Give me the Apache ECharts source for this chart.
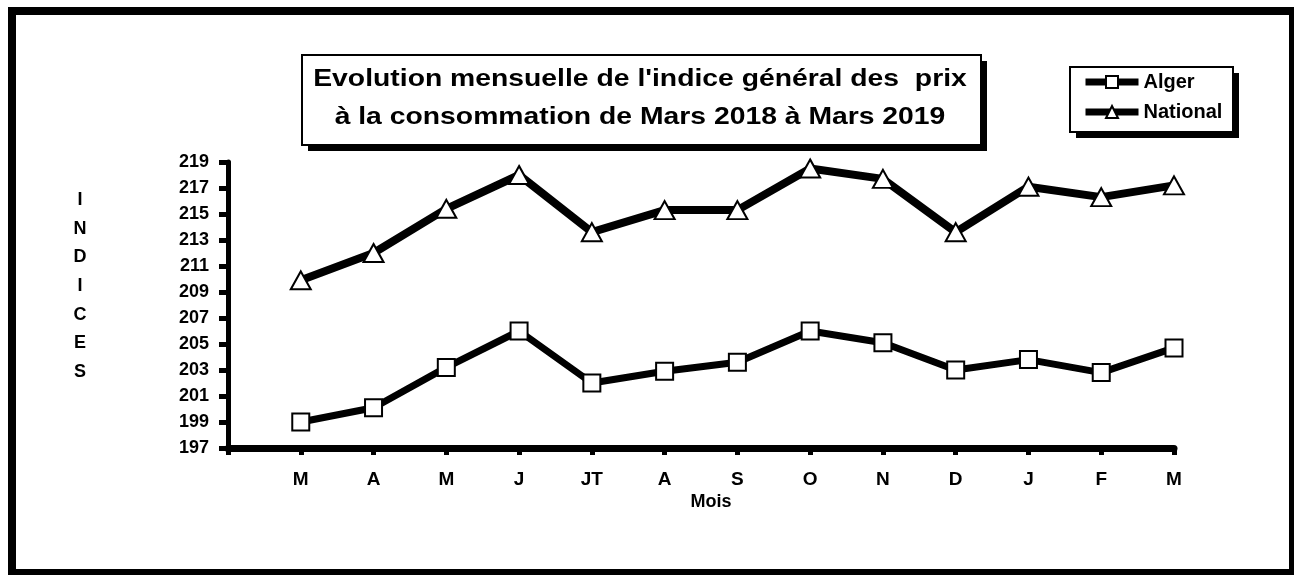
<!DOCTYPE html>
<html>
<head>
<meta charset="utf-8">
<script src="https://cdn.jsdelivr.net/npm/echarts@6/dist/echarts.min.js"></script>
<style>
  html, body { margin: 0; padding: 0; background: #fff; }
  #chart { width: 1294px; height: 575px; }
</style>
</head>
<body>
<div id="chart"></div>
<script>
// month initials, Mars 2018 -> Mars 2019
var months = ['M', 'A', 'M', 'J', 'JT', 'A', 'S', 'O', 'N', 'D', 'J', 'F', 'M'];
var alger = [199.0, 200.1, 203.2, 206.0, 202.0, 202.9, 203.6, 206.0, 205.1, 203.0, 203.8, 202.8, 204.7];
var national = [209.9, 212.0, 215.4, 218.0, 213.6, 215.3, 215.3, 218.5, 217.7, 213.6, 217.1, 216.3, 217.2];
var yTicks = [197, 199, 201, 203, 205, 207, 209, 211, 213, 215, 217, 219];

(function() {
  var font = "'Liberation Sans', Arial, sans-serif";
  var ink = '#000';

  function points(values) {
    return values.map(function(v, i) { return [i + 1, v]; });
  }

  var chart = echarts.init(document.getElementById('chart'), null, { renderer: 'canvas' });
  chart.setOption({
    backgroundColor: '#fff',
    animation: false,
    textStyle: { fontFamily: font },
    grid: { left: 228, right: 120, top: 162, bottom: 127 },
    legend: {
      orient: 'vertical',
      left: 1082,
      top: 72,
      padding: 0,
      itemGap: 10,
      itemWidth: 53,
      itemHeight: 15,
      z: 10,
      lineStyle: { width: 7 },
      textStyle: { color: ink, fontSize: 20, fontWeight: 'bold', fontFamily: font },
      data: ['Alger', 'National']
    },
    xAxis: {
      type: 'value',
      min: 0,
      max: 13,
      interval: 1,
      splitLine: { show: false },
      axisLine: { show: true, lineStyle: { color: ink, width: 7 } },
      axisTick: { show: true, length: 7, lineStyle: { color: ink, width: 5 } },
      axisLabel: {
        color: ink, fontSize: 19, fontWeight: 'bold', margin: 22,
        formatter: function(v) { return months[v - 1] || ''; }
      }
    },
    yAxis: {
      type: 'value',
      min: 197,
      max: 219,
      splitLine: { show: false },
      axisLine: { show: true, lineStyle: { color: ink, width: 5 } },
      axisTick: { show: true, length: 9, customValues: yTicks, lineStyle: { color: ink, width: 5 } },
      axisLabel: { color: ink, fontSize: 18, fontWeight: 'bold', margin: 19, customValues: yTicks }
    },
    series: [{
      name: 'Alger',
      type: 'line',
      data: points(alger),
      symbol: 'rect',
      symbolSize: 17,
      lineStyle: { color: ink, width: 7 },
      itemStyle: { color: '#fff', borderColor: ink, borderWidth: 2 }
    }, {
      name: 'National',
      type: 'line',
      data: points(national),
      symbol: 'triangle',
      symbolSize: [20, 18],
      lineStyle: { color: ink, width: 8 },
      itemStyle: { color: '#fff', borderColor: ink, borderWidth: 2 }
    }],
    graphic: [
      // outer frame
      { type: 'rect', z: 0, shape: { x: 12, y: 11, width: 1281, height: 562 },
        style: { fill: null, stroke: ink, lineWidth: 8 } },
      // title box with shadow
      { type: 'rect', z: 1, shape: { x: 308, y: 61, width: 679, height: 90 }, style: { fill: ink } },
      { type: 'rect', z: 2, shape: { x: 302, y: 55, width: 679, height: 90 },
        style: { fill: '#fff', stroke: ink, lineWidth: 2 } },
      { type: 'text', z: 3, x: 640, y: 79, scaleX: 1.18,
        style: { text: "Evolution mensuelle de l'indice général des  prix", fill: ink,
          font: 'bold 24px ' + font, align: 'center', verticalAlign: 'middle' } },
      { type: 'text', z: 3, x: 640, y: 117, scaleX: 1.18,
        style: { text: 'à la consommation de Mars 2018 à Mars 2019', fill: ink,
          font: 'bold 24px ' + font, align: 'center', verticalAlign: 'middle' } },
      // legend box with shadow
      { type: 'rect', z: 1, shape: { x: 1076, y: 73, width: 163, height: 65 }, style: { fill: ink } },
      { type: 'rect', z: 2, shape: { x: 1070, y: 67, width: 163, height: 65 },
        style: { fill: '#fff', stroke: ink, lineWidth: 2 } },
      // axis titles
      { type: 'text', z: 3, x: 80, y: 286,
        style: { text: 'I\nN\nD\nI\nC\nE\nS', fill: ink, font: 'bold 18px ' + font,
          lineHeight: 28.6, align: 'center', verticalAlign: 'middle' } },
      { type: 'text', z: 3, x: 711, y: 502,
        style: { text: 'Mois', fill: ink, font: 'bold 18px ' + font,
          align: 'center', verticalAlign: 'middle' } }
    ]
  });
  window.addEventListener('resize', function() { chart.resize(); });
})();
</script>
</body>
</html>
